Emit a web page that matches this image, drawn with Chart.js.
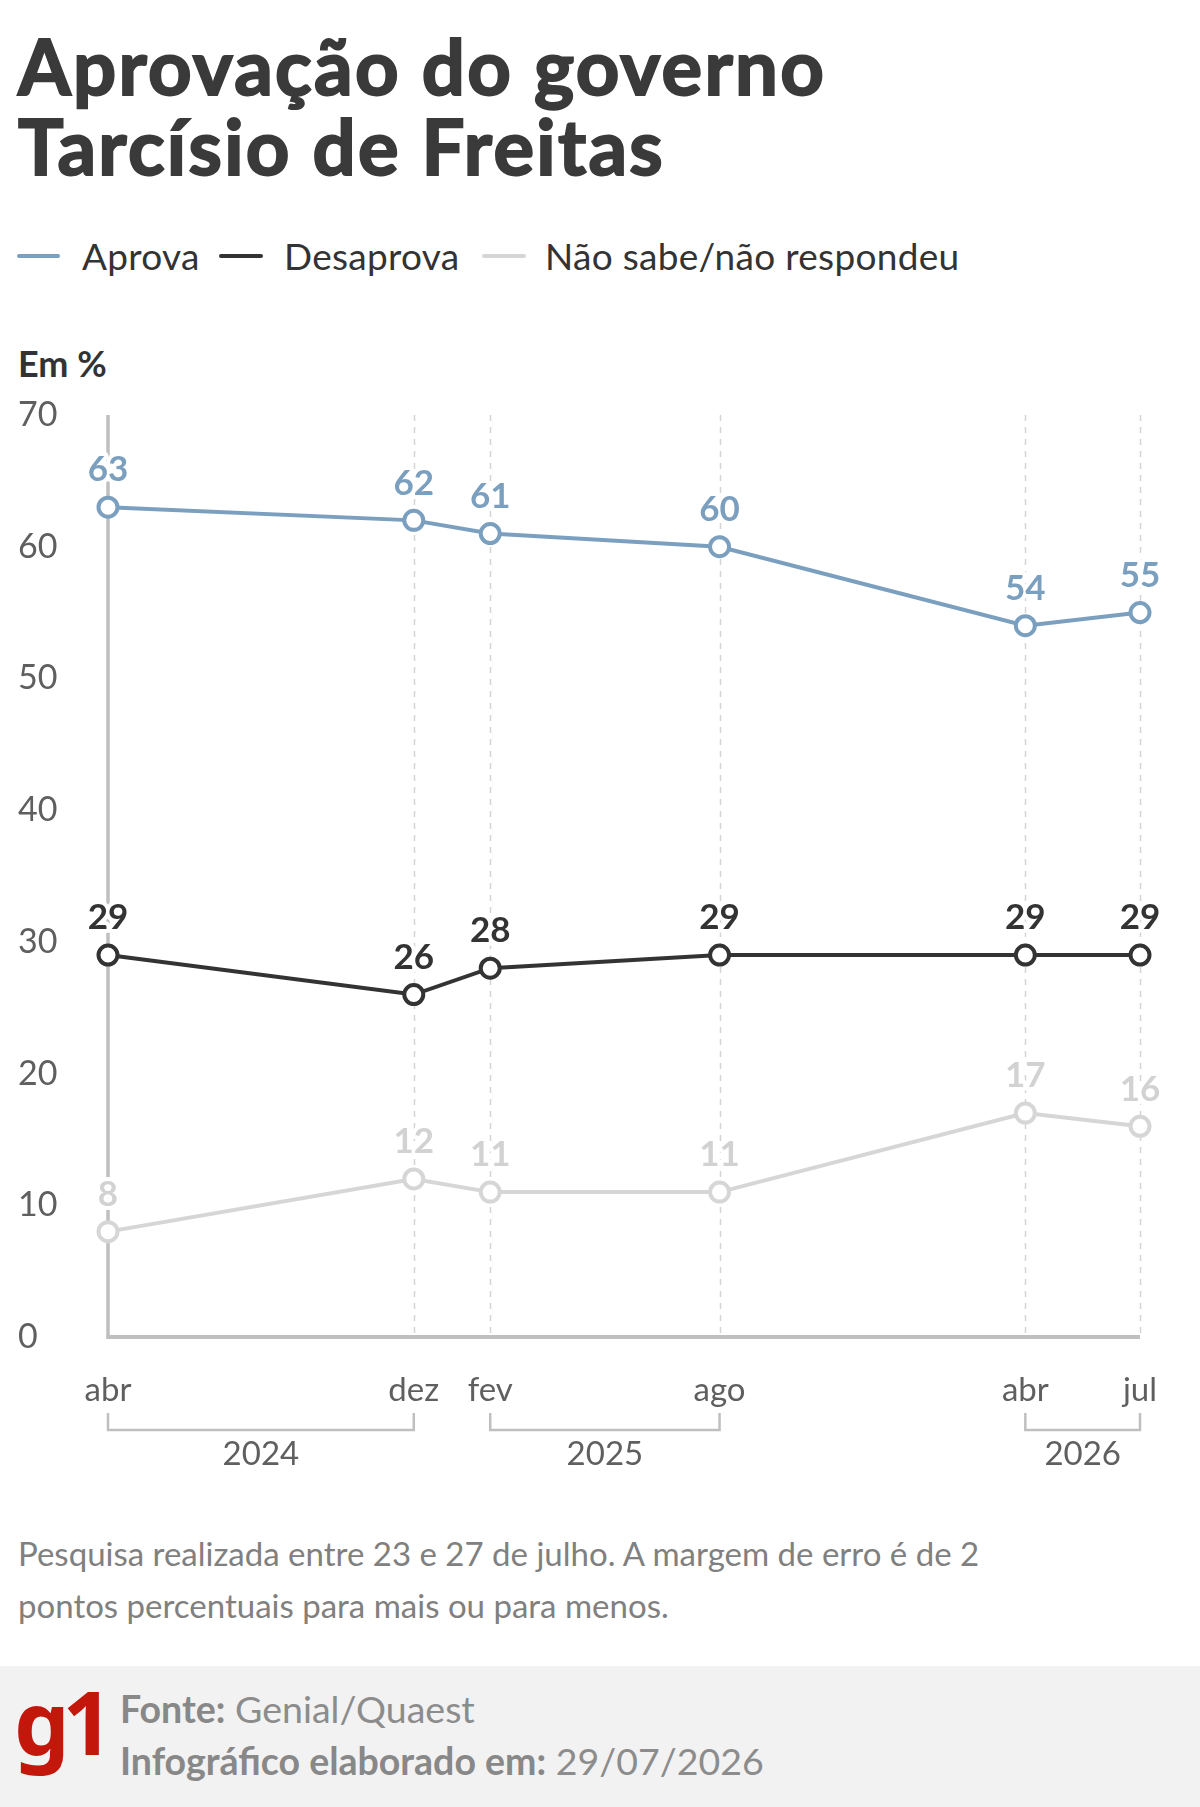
<!DOCTYPE html>
<html lang="pt-BR">
<head>
<meta charset="utf-8">
<title>Aprovação do governo Tarcísio de Freitas</title>
<script src="https://cdn.jsdelivr.net/npm/chart.js@4.4.1/dist/chart.umd.min.js"></script>
<style>
  html, body { margin: 0; padding: 0; background: #fff; }
  body { width: 1200px; height: 1807px; position: relative; overflow: hidden; font-family: Lato, "Noto Sans", sans-serif; color: #333; }
  .title { position: absolute; left: 18px; top: 26px; margin: 0; font-size: 76px; font-weight: 700; line-height: 80px; color: #3a3a3a; letter-spacing: 2.3px; -webkit-text-stroke: 2px #3a3a3a; }
  .legend-swatch { position: absolute; top: 254px; height: 4px; border-radius: 2px; }
  .legend-text { position: absolute; top: 235px; font-size: 37px; line-height: 42px; color: #333; letter-spacing: 0.3px; }
  .unit { position: absolute; left: 18px; top: 341px; font-size: 36px; font-weight: 700; color: #333; }
  #chart { position: absolute; left: 0; top: 385px; }
  .note { position: absolute; left: 18px; top: 1527px; width: 1150px; font-size: 33px; line-height: 52px; color: #808080; }
  .footer { position: absolute; left: 0; top: 1666px; width: 1200px; height: 141px; background: #f2f2f2; }
  .logo { position: absolute; left: 14px; top: 10px; font-family: "Noto Sans", Inter, sans-serif; font-size: 88px; font-weight: 700; color: #c4170c; letter-spacing: -7px; line-height: 90px; }
  .src { position: absolute; left: 120px; font-size: 37.5px; color: #8c8c8c; }
  .src b { font-weight: 700; color: #888; }
</style>
</head>
<body>
<h1 class="title">Aprovação do governo<br>Tarcísio de Freitas</h1>

<div class="legend-swatch" style="left:17px;width:43px;background:#7b9fbf"></div>
<div class="legend-text" style="left:82px">Aprova</div>
<div class="legend-swatch" style="left:219px;width:44px;background:#333"></div>
<div class="legend-text" style="left:284px">Desaprova</div>
<div class="legend-swatch" style="left:482px;width:44px;background:#d6d6d6"></div>
<div class="legend-text" style="left:545px">Não sabe/não respondeu</div>

<div class="unit">Em %</div>

<canvas id="chart" width="1200" height="1100"></canvas>

<div class="note">Pesquisa realizada entre 23 e 27 de julho. A margem de erro é de 2<br>pontos percentuais para mais ou para menos.</div>

<div class="footer">
  <div class="logo">g1</div>
  <div class="src" style="top:20px"><b>Fonte:</b> Genial/Quaest</div>
  <div class="src" style="top:72px"><b>Infográfico elaborado em:</b> 29/07/2026</div>
</div>

<script>
// survey months (yyyy-mm) and their short labels
const surveyDates = ['2024-04', '2024-12', '2025-02', '2025-08', '2026-04', '2026-07'];
const monthLabels = ['abr', 'dez', 'fev', 'ago', 'abr', 'jul'];

const aprova = [63, 62, 61, 60, 54, 55];
const desaprova = [29, 26, 28, 29, 29, 29];
const naoSabe = [8, 12, 11, 11, 17, 16];

const yMax = 70;
const yStep = 10;

const colors = {
  aprova: '#7b9fbf',
  desaprova: '#333333',
  naoSabe: '#d6d6d6',
  naoSabeLabel: '#d2d2d2',
  axis: '#bfbfbf',
  grid: '#d4d4d4',
  tick: '#5f5f5f'
};

// months counted from the first survey, so spacing follows real time
const first = surveyDates[0].split('-').map(Number);
const monthIdx = surveyDates.map(d => {
  const [yy, mm] = d.split('-').map(Number);
  return (yy - first[0]) * 12 + (mm - first[1]);
});

// year groups for the brackets under the axis
const yearGroups = [];
surveyDates.forEach((d, i) => {
  const yr = d.slice(0, 4);
  let g = yearGroups.find(g => g.year === yr);
  if (!g) { g = { year: yr, from: monthIdx[i], to: monthIdx[i] }; yearGroups.push(g); }
  g.to = monthIdx[i];
});

const toPoints = arr => arr.map((v, i) => ({ x: monthIdx[i], y: v }));

function series(label, values, color) {
  return {
    label: label,
    data: toPoints(values),
    borderColor: color,
    backgroundColor: '#fff',
    borderWidth: 4,
    pointRadius: 9.5,
    pointBorderWidth: 4,
    pointBackgroundColor: '#fff',
    pointBorderColor: color,
    tension: 0,
    clip: false
  };
}

const gridPlugin = {
  id: 'grid',
  beforeDatasetsDraw(chart) {
    const { ctx, scales: { x, y } } = chart;
    const top = y.getPixelForValue(yMax);
    const bottom = y.getPixelForValue(0);
    ctx.save();
    // dashed verticals at every survey after the first
    ctx.strokeStyle = colors.grid;
    ctx.lineWidth = 1.5;
    ctx.setLineDash([6, 6]);
    monthIdx.slice(1).forEach(m => {
      const px = Math.round(x.getPixelForValue(m)) + 0.5;
      ctx.beginPath();
      ctx.moveTo(px, top);
      ctx.lineTo(px, bottom);
      ctx.stroke();
    });
    ctx.setLineDash([]);
    // solid line at the first survey and base line
    ctx.strokeStyle = colors.axis;
    ctx.lineWidth = 3.5;
    const x0 = x.getPixelForValue(monthIdx[0]);
    ctx.beginPath();
    ctx.moveTo(x0, top);
    ctx.lineTo(x0, bottom);
    ctx.stroke();
    ctx.lineWidth = 4;
    ctx.beginPath();
    ctx.moveTo(x0 - 1.75, bottom);
    ctx.lineTo(x.getPixelForValue(monthIdx[monthIdx.length - 1]), bottom);
    ctx.stroke();
    ctx.restore();
  }
};

const labelPlugin = {
  id: 'valueLabels',
  afterDatasetsDraw(chart) {
    const { ctx } = chart;
    const labelColors = [colors.aprova, colors.desaprova, colors.naoSabeLabel];
    ctx.save();
    ctx.font = '700 35px Lato, "Noto Sans", sans-serif';
    ctx.textAlign = 'center';
    ctx.textBaseline = 'middle';
    ctx.lineJoin = 'round';
    chart.data.datasets.forEach((ds, di) => {
      chart.getDatasetMeta(di).data.forEach((pt, i) => {
        const txt = String(ds.data[i].y);
        const ty = pt.y - 37;
        ctx.strokeStyle = '#fff';
        ctx.lineWidth = 8;
        ctx.strokeText(txt, pt.x, ty);
        ctx.fillStyle = labelColors[di];
        ctx.fillText(txt, pt.x, ty);
      });
    });
    ctx.restore();
  }
};

const yearPlugin = {
  id: 'years',
  afterDraw(chart) {
    const { ctx, chartArea, scales: { x } } = chart;
    const b = chartArea.bottom;
    ctx.save();
    ctx.strokeStyle = colors.axis;
    ctx.lineWidth = 2.5;
    ctx.font = '33px Lato, "Noto Sans", sans-serif';
    ctx.fillStyle = colors.tick;
    ctx.textAlign = 'center';
    ctx.textBaseline = 'middle';
    yearGroups.forEach(g => {
      const x1 = x.getPixelForValue(g.from);
      const x2 = x.getPixelForValue(g.to);
      ctx.beginPath();
      ctx.moveTo(x1, b + 76);
      ctx.lineTo(x1, b + 93);
      ctx.lineTo(x2, b + 93);
      ctx.lineTo(x2, b + 76);
      ctx.stroke();
      ctx.fillText(g.year, (x1 + x2) / 2, b + 117);
    });
    ctx.restore();
  }
};

new Chart(document.getElementById('chart'), {
  type: 'line',
  data: {
    datasets: [
      series('Aprova', aprova, colors.aprova),
      series('Desaprova', desaprova, colors.desaprova),
      series('Não sabe/não respondeu', naoSabe, colors.naoSabe)
    ]
  },
  options: {
    responsive: false,
    animation: false,
    events: [],
    layout: { padding: { top: 30, left: 18, right: 60, bottom: 0 } },
    plugins: { legend: { display: false }, tooltip: { enabled: false } },
    scales: {
      x: {
        type: 'linear',
        min: monthIdx[0],
        max: monthIdx[monthIdx.length - 1],
        grid: { display: false },
        border: { display: false },
        afterBuildTicks: s => { s.ticks = monthIdx.map(v => ({ value: v })); },
        afterFit: s => { s.height = 148; },
        ticks: {
          autoSkip: false,
          maxRotation: 0,
          padding: 26,
          color: colors.tick,
          font: { family: 'Lato, "Noto Sans", sans-serif', size: 33 },
          callback: (v, i) => monthLabels[i]
        }
      },
      y: {
        min: 0,
        max: yMax,
        grid: { display: false },
        border: { display: false },
        afterFit: s => { s.width = 90; },
        ticks: {
          stepSize: yStep,
          crossAlign: 'far',
          color: colors.tick,
          font: { family: 'Lato, "Noto Sans", sans-serif', size: 34 }
        }
      }
    }
  },
  plugins: [gridPlugin, labelPlugin, yearPlugin]
});
</script>
</body>
</html>
